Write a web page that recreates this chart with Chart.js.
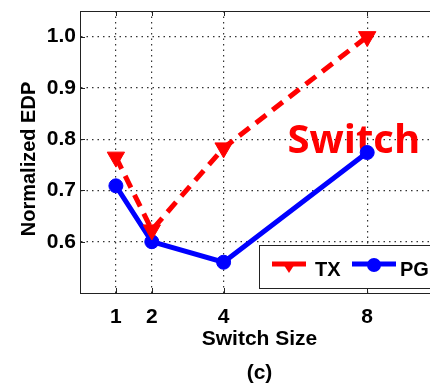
<!DOCTYPE html>
<html>
<head>
<meta charset="utf-8">
<script src="https://cdn.jsdelivr.net/npm/chart.js@4.4.0/dist/chart.umd.min.js"></script>
<style>
  html, body { margin: 0; padding: 0; background: #fff; overflow: hidden; width: 430px; height: 385px; }
  #wrap { position: relative; width: 450px; height: 395px; }
</style>
</head>
<body>
<div id="wrap"><canvas id="edp" width="450" height="395"></canvas></div>
<script>
// Normalized energy-delay product versus switch size
const switchSizes = [1, 2, 4, 8];
const txEDP = [0.765, 0.623, 0.783, 1.0];
const pgEDP = [0.709, 0.600, 0.560, 0.774];
const seriesNames = ['TX', 'PG'];
const yTickValues = [0.6, 0.7, 0.8, 0.9, 1.0];
const xAxisTitle = ['Switch Size', '(c)'];
const yAxisTitle = 'Normalized EDP';
const noteText = 'Switch';
const notePosition = { x: 5.78, y: 0.773 };

const FONT = "'Liberation Sans', Arial, Helvetica, sans-serif";
const RED = '#ff0000';
const BLUE = '#0000ff';

const toPoints = (xs, ys) => xs.map((x, i) => ({ x, y: ys[i] }));

// Top edge, inward tick marks, y-axis title and the red note
const framePlugin = {
  id: 'frame',
  beforeDatasetsDraw(chart) {
    const { ctx, chartArea: a, scales } = chart;
    ctx.save();
    ctx.strokeStyle = '#222';
    ctx.lineWidth = 1;
    ctx.beginPath();
    ctx.moveTo(a.left, a.top + 0.5);
    ctx.lineTo(a.right, a.top + 0.5);
    scales.x.ticks.forEach(t => {
      const px = Math.round(scales.x.getPixelForValue(t.value)) + 0.5;
      ctx.moveTo(px, a.bottom); ctx.lineTo(px, a.bottom - 5);
      ctx.moveTo(px, a.top); ctx.lineTo(px, a.top + 5);
    });
    scales.y.ticks.forEach(t => {
      const py = Math.round(scales.y.getPixelForValue(t.value)) + 0.5;
      ctx.moveTo(a.left, py); ctx.lineTo(a.left + 5, py);
    });
    ctx.stroke();

    // y-axis title, rotated, a little below the axis centre
    ctx.save();
    ctx.translate(a.left - 51, (a.top + a.bottom) / 2 + 7);
    ctx.rotate(-Math.PI / 2);
    ctx.fillStyle = '#000';
    ctx.font = 'bold 20px ' + FONT;
    ctx.textAlign = 'center';
    ctx.textBaseline = 'middle';
    ctx.fillText(yAxisTitle, 0, 0);
    ctx.restore();

    // red note inside the plot
    ctx.fillStyle = RED;
    ctx.font = "bold 40px 'Open Sans', sans-serif";
    ctx.textAlign = 'left';
    ctx.textBaseline = 'alphabetic';
    ctx.fillText(noteText,
      scales.x.getPixelForValue(notePosition.x),
      scales.y.getPixelForValue(notePosition.y));
    ctx.restore();
  }
};

// Boxed legend in the lower right corner of the plot
const insetLegend = {
  id: 'insetLegend',
  afterDraw(chart) {
    const { ctx, chartArea: a } = chart;
    const left = a.left + 179, top = a.bottom - 48, bottom = a.bottom - 5, right = a.right - 3;
    ctx.save();
    ctx.fillStyle = '#fff';
    ctx.fillRect(left, top, right - left, bottom - top);
    ctx.strokeStyle = '#222';
    ctx.lineWidth = 1;
    ctx.strokeRect(Math.round(left) + 0.5, Math.round(top) + 0.5, right - left, bottom - top);

    const lineY = top + 19;
    const entries = [
      { x0: left + 13, x1: left + 47, tx: left + 56 },
      { x0: left + 93, x1: left + 137, tx: left + 141 }
    ];
    chart.data.datasets.forEach((ds, i) => {
      const e = entries[i];
      ctx.strokeStyle = ds.borderColor;
      ctx.fillStyle = ds.borderColor;
      ctx.lineWidth = 5;
      ctx.setLineDash([]);
      ctx.beginPath();
      ctx.moveTo(e.x0, lineY);
      ctx.lineTo(e.x1, lineY);
      ctx.stroke();
      const cx = (e.x0 + e.x1) / 2;
      ctx.beginPath();
      if (ds.pointStyle === 'triangle') {
        const r = 6.5;
        ctx.moveTo(cx - r, lineY - 1);
        ctx.lineTo(cx + r, lineY - 1);
        ctx.lineTo(cx, lineY + 9);
        ctx.closePath();
      } else {
        ctx.arc(cx, lineY + 1, 7, 0, Math.PI * 2);
      }
      ctx.fill();
      ctx.fillStyle = '#000';
      ctx.font = 'bold 20px ' + FONT;
      ctx.textAlign = 'left';
      ctx.textBaseline = 'middle';
      ctx.fillText(ds.label, e.tx, lineY + 6);
    });
    ctx.restore();
  }
};

new Chart(document.getElementById('edp'), {
  type: 'line',
  data: {
    datasets: [
      {
        label: seriesNames[0],
        data: toPoints(switchSizes, txEDP),
        borderColor: RED,
        backgroundColor: RED,
        borderWidth: 5,
        borderDash: [13, 8],
        pointStyle: 'triangle',
        rotation: 180,
        pointRadius: 10,
        pointBackgroundColor: RED,
        pointBorderColor: RED,
        pointBorderWidth: 1,
        tension: 0
      },
      {
        label: seriesNames[1],
        data: toPoints(switchSizes, pgEDP),
        borderColor: BLUE,
        backgroundColor: BLUE,
        borderWidth: 5,
        pointStyle: 'circle',
        pointRadius: 7,
        pointBackgroundColor: BLUE,
        pointBorderColor: BLUE,
        pointBorderWidth: 1,
        tension: 0
      }
    ]
  },
  options: {
    responsive: false,
    devicePixelRatio: 1,
    animation: false,
    layout: { padding: { top: 9, right: 6.5, left: 0, bottom: 0 } },
    plugins: { legend: { display: false }, tooltip: { enabled: false } },
    scales: {
      x: {
        type: 'linear',
        min: 0,
        max: 10,
        afterBuildTicks: s => { s.ticks = switchSizes.map(v => ({ value: v })); },
        afterFit: s => { s.height = 102; s.paddingLeft = 0; s.paddingRight = 0; },
        ticks: {
          color: '#000',
          padding: 12,
          font: { family: FONT, size: 21, weight: 'bold' },
          callback: v => String(v)
        },
        grid: { color: '#333', lineWidth: 1.2, drawTicks: false },
        border: { display: true, color: '#222', width: 1, dash: [1.5, 4] },
        title: {
          display: true,
          text: xAxisTitle,
          color: '#000',
          font: { family: FONT, size: 21, weight: 'bold', lineHeight: 1.6 },
          padding: { top: 0, bottom: 5 }
        }
      },
      y: {
        min: 0.5,
        max: 1.05,
        afterBuildTicks: s => { s.ticks = yTickValues.map(v => ({ value: v })); },
        afterFit: s => { s.width = 80; s.paddingTop = 0; s.paddingBottom = 0; },
        ticks: {
          color: '#000',
          padding: 4,
          font: { family: FONT, size: 21, weight: 'bold' },
          callback: v => Number(v).toFixed(1)
        },
        grid: { color: '#333', lineWidth: 1.2, drawTicks: false },
        border: { display: true, color: '#222', width: 1, dash: [1.5, 4] }
      }
    }
  },
  plugins: [framePlugin, insetLegend]
});
</script>
</body>
</html>
